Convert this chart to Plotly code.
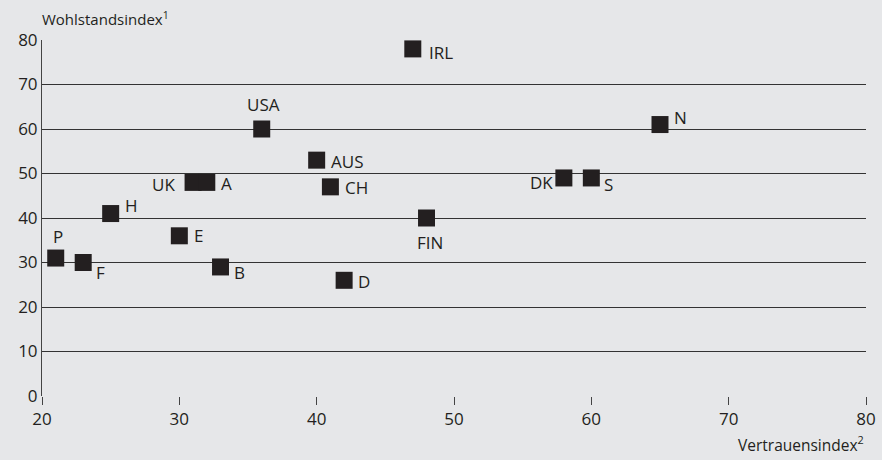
import plotly.graph_objects as go

# Country codes with trust index (x) and prosperity index (y)
countries = ["P", "F", "H", "E", "B", "UK", "A", "USA", "AUS", "CH", "D", "IRL", "FIN", "DK", "S", "N"]
vertrauen = [21, 23, 25, 30, 33, 31, 32, 36, 40, 41, 42, 47, 48, 58, 60, 65]
wohlstand = [31, 30, 41, 36, 29, 48, 48, 60, 53, 47, 26, 78, 40, 49, 49, 61]

x_ticks = [20, 30, 40, 50, 60, 70, 80]
y_ticks = [0, 10, 20, 30, 40, 50, 60, 70, 80]

# label placement per country: (xanchor, xshift, yshift)
label_pos = {
    "P": ("center", 2, 22), "F": ("left", 11, -10), "H": ("left", 12, 8),
    "E": ("left", 13, 0), "B": ("left", 11, -6), "UK": ("right", -16, -2),
    "A": ("left", 12, -1), "USA": ("center", 2, 25), "AUS": ("left", 12, -1),
    "CH": ("left", 13, -1), "D": ("left", 12, -1), "IRL": ("left", 14, -4),
    "FIN": ("center", 3, -24), "DK": ("right", -9, -5), "S": ("left", 11, -7),
    "N": ("left", 12, 7),
}

bg = "#e6e7e9"
ink = "#231f20"
font = "Open Sans"

fig = go.Figure()
fig.add_trace(go.Scatter(
    x=vertrauen, y=wohlstand, mode="markers",
    marker=dict(symbol="square", size=17, color=ink, line=dict(width=0)),
    hoverinfo="text", text=countries, showlegend=False,
))

annotations = []
for c, xv, yv in zip(countries, vertrauen, wohlstand):
    anchor, dx, dy = label_pos[c]
    annotations.append(dict(
        x=xv, y=yv, text=c, showarrow=False, xanchor=anchor, yanchor="middle",
        xshift=dx, yshift=dy, font=dict(family=font, size=17, color=ink),
    ))

annotations.append(dict(
    xref="paper", yref="paper", x=-0.002, y=1.0, yshift=9, xanchor="left", yanchor="bottom",
    text="Wohlstandsindex<sup>1</sup>", showarrow=False,
    font=dict(family=font, size=15, color=ink),
))
annotations.append(dict(
    xref="paper", yref="paper", x=1.0, y=0, yshift=-34, xanchor="right", yanchor="top",
    text="Vertrauensindex<sup>2</sup>", showarrow=False,
    font=dict(family=font, size=15.5, color=ink),
))
fig.update_layout(annotations=annotations)

fig.update_layout(
    width=882, height=460,
    margin=dict(l=42, r=16, t=40, b=64, autoexpand=False),
    paper_bgcolor=bg, plot_bgcolor=bg,
    xaxis=dict(
        range=[20, 80], tickvals=x_ticks, ticks="outside", ticklen=8, tickwidth=1,
        tickcolor="#444", showgrid=False, zeroline=False, showline=False,
        automargin=False,
        tickfont=dict(family=font, size=17, color=ink),
    ),
    yaxis=dict(
        range=[0, 80], tickvals=y_ticks, showgrid=True, gridcolor="#333", gridwidth=1,
        zeroline=False, showline=True, linecolor="#444", linewidth=1, ticks="",
        automargin=False,
        tickfont=dict(family=font, size=17, color=ink),
    ),
)

fig.write_html("out.html")
